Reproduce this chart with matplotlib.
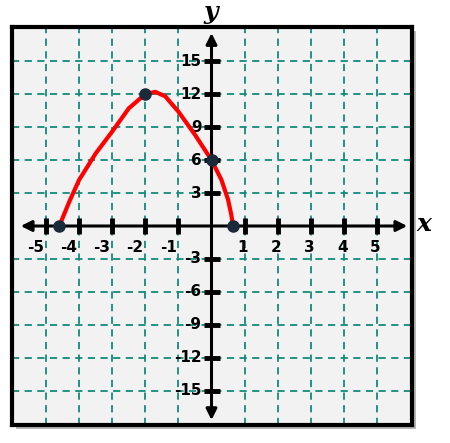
import matplotlib
matplotlib.use("Agg")
import matplotlib.pyplot as plt
from matplotlib.patches import Rectangle

# points
curve_x = [-4.6, -4.3, -4.0, -3.5, -3.0, -2.5, -2.0, -1.7, -1.4, -1.0, -0.5, 0.0, 0.3, 0.5, 0.6, 0.65]
curve_y = [0.0, 2.2, 4.2, 6.6, 8.6, 10.7, 12.0, 12.2, 11.8, 10.4, 8.3, 6.0, 4.2, 2.4, 1.0, 0.0]
dots_x = [-4.6, -2.0, 0.0, 0.65]
dots_y = [0, 12, 6, 0]
xticks = [-5, -4, -3, -2, -1, 1, 2, 3, 4, 5]
yticks = [-15, -12, -9, -6, -3, 3, 6, 9, 12, 15]

fig = plt.figure(figsize=(4.5, 4.43), dpi=100)
# shadow behind the frame
fig.add_artist(Rectangle((16/450, 14/443), 400/450, 398/443, transform=fig.transFigure,
                         facecolor="#b8b8b8", edgecolor="none", zorder=-5))
ax = fig.add_axes([12/450, 18/443, 400/450, 398/443])
ax.set_zorder(1)
ax.set_facecolor("#f2f2f2")
ax.set_xlim(-6.03, 6.06)
ax.set_ylim(-18.1, 18.1)
for s in ax.spines.values():
    s.set_linewidth(3)
ax.set_xticks([])
ax.set_yticks([])

for gx in range(-5, 6):
    if gx != 0:
        ax.axvline(gx, color="#138a7a", ls=(0, (4, 3)), lw=1.3, zorder=1)
for gy in range(-15, 16, 3):
    if gy != 0:
        ax.axhline(gy, color="#138a7a", ls=(0, (4, 3)), lw=1.3, zorder=1)

# axes with arrows
ax.annotate("", xy=(6.0, 0), xytext=(-5.85, 0),
            arrowprops=dict(arrowstyle="<|-|>", color="black", lw=2.2, mutation_scale=16), zorder=3)
ax.annotate("", xy=(0, 17.8), xytext=(0, -17.9),
            arrowprops=dict(arrowstyle="<|-|>", color="black", lw=2.2, mutation_scale=16), zorder=3)
ax.plot(xticks, [0]*len(xticks), ls="none", marker="|", ms=12, mew=3.5, color="black", zorder=3)
ax.plot([0]*len(yticks), yticks, ls="none", marker="_", ms=12, mew=3.5, color="black", zorder=3)
for t in xticks:
    ax.text(t - 0.05, -1.3, str(t), ha="right" if t < 0 else "center", va="top",
            fontsize=11, fontweight="bold")
for t in yticks:
    ax.text(-0.3, t, str(t), ha="right", va="center", fontsize=11, fontweight="bold")

ax.plot(curve_x, curve_y, color="red", lw=3, zorder=4, solid_capstyle="round")
ax.plot(dots_x, dots_y, "o", ms=8, color="#1b2a3a", zorder=5)

fig.text(211/450, 1 - 12/443, "y", ha="center", va="center", fontsize=18,
         style="italic", fontweight="bold", family="DejaVu Serif")
fig.text(424/450, 1 - 224/443, "x", ha="center", va="center", fontsize=18,
         style="italic", fontweight="bold", family="DejaVu Serif")
fig.savefig("out.png", dpi=100)
